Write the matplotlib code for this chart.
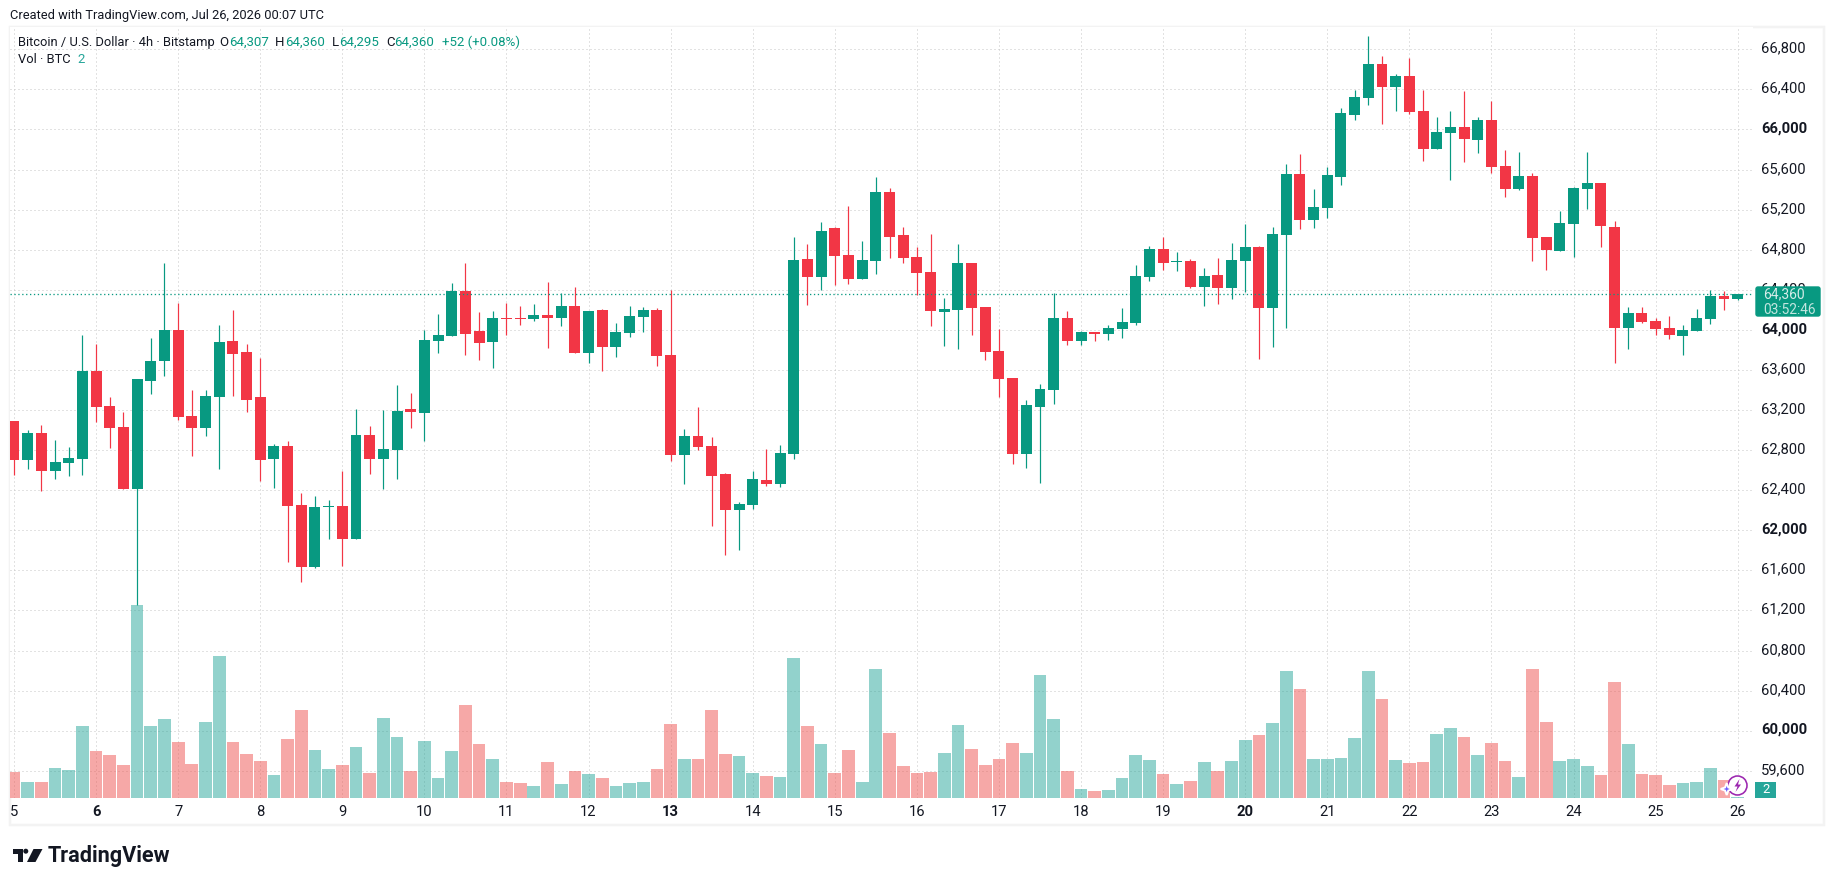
import matplotlib
matplotlib.use('Agg')
import matplotlib.pyplot as plt
from matplotlib.patches import Rectangle, Polygon, Circle, FancyBboxPatch
from matplotlib.transforms import Affine2D, ScaledTranslation

# BTC/USD 4h candles, Bitstamp
opens = [63093, 62703, 62973, 62593, 62673, 62713, 63593, 63243, 63033, 62413,
         63493, 63693, 64003, 63143, 63023, 63333, 63893, 63783, 63333, 62713,
         62843, 62253, 61633, 62233, 62243, 61913, 62953, 62713, 62803, 63213,
         63173, 63893, 63943, 64383, 63993, 63883, 64123, 64123, 64113, 64153,
         64123, 64243, 63773, 64203, 63833, 63973, 64133, 64203, 63753, 62753,
         62943, 62843, 62563, 62203, 62253, 62503, 62463, 62763, 64703, 64523,
         65013, 64743, 64503, 64683, 65373, 64943, 64723, 64573, 64183, 64203,
         64663, 64233, 63793, 63523, 62763, 63233, 63403, 64123, 63893, 63983,
         63963, 64013, 64073, 64523, 64803, 64673, 64683, 64423, 64543, 64413,
         64683, 64823, 64223, 64943, 65553, 65093, 65213, 65523, 66143, 66313,
         66653, 66423, 66533, 66183, 65803, 65963, 66023, 65893, 66093, 65633,
         65403, 65533, 64923, 64783, 65053, 65403, 65463, 65023, 64023, 64173,
         64093, 64023, 63943, 63993, 64113, 64333, 64307]
highs = [63093, 63003, 63053, 62903, 62833, 63953, 63863, 63333, 63183, 63513,
         63923, 64663, 64273, 63403, 63403, 64053, 64203, 63863, 63723, 62863,
         62893, 62373, 62343, 62303, 62593, 63213, 63043, 63203, 63453, 63373,
         64003, 64163, 64463, 64663, 64183, 64193, 64273, 64243, 64263, 64473,
         64363, 64423, 64193, 64213, 64073, 64243, 64233, 64223, 64393, 63013,
         63233, 62933, 62573, 62283, 62593, 62813, 62853, 64923, 64853, 65073,
         65023, 65233, 64883, 65523, 65413, 65023, 64823, 64953, 64313, 64853,
         64663, 64233, 64013, 63523, 63303, 63463, 64363, 64193, 63993, 63983,
         64053, 64223, 64643, 64833, 64923, 64773, 64703, 64613, 64713, 64863,
         65053, 64833, 65023, 65653, 65753, 65403, 65623, 66213, 66393, 66933,
         66733, 66553, 66713, 66393, 66123, 66183, 66383, 66123, 66283, 65793,
         65773, 65563, 64923, 65183, 65423, 65773, 65463, 65083, 64233, 64233,
         64123, 64143, 64053, 64213, 64393, 64383, 64360]
lows = [62553, 62613, 62393, 62513, 62543, 62553, 63083, 62823, 62413, 61253,
        63363, 63543, 63103, 62743, 62943, 62613, 63343, 63183, 62493, 62423,
        61683, 61483, 61623, 61913, 61643, 61913, 62563, 62413, 62513, 63023,
        62893, 63773, 63943, 63753, 63703, 63623, 63953, 64053, 64093, 63823,
        64043, 63773, 63673, 63593, 63733, 63933, 63983, 63643, 62693, 62463,
        62803, 62043, 61753, 61803, 62213, 62443, 62433, 62713, 64253, 64393,
        64443, 64453, 64503, 64553, 64713, 64663, 64343, 64043, 63843, 63813,
        63953, 63703, 63333, 62663, 62623, 62473, 63263, 63853, 63853, 63893,
        63903, 63923, 64053, 64483, 64593, 64583, 64413, 64243, 64263, 64303,
        64373, 63713, 63833, 64023, 65003, 65013, 65113, 65443, 66093, 66243,
        66053, 66183, 66153, 65683, 65803, 65493, 65673, 65763, 65563, 65323,
        65393, 64683, 64593, 64783, 64723, 65203, 64823, 63673, 63813, 64073,
        63953, 63913, 63753, 63993, 64063, 64203, 64295]
closes = [62703, 62973, 62593, 62683, 62723, 63593, 63233, 63023, 62413, 63513,
          63693, 64003, 63133, 63023, 63343, 63883, 63763, 63303, 62703, 62843,
          62243, 61633, 62233, 62243, 61913, 62953, 62713, 62813, 63193, 63183,
          63903, 63953, 64383, 63963, 63873, 64123, 64113, 64113, 64153, 64123,
          64243, 63773, 64193, 63833, 63983, 64143, 64203, 63743, 62753, 62943,
          62833, 62543, 62203, 62263, 62513, 62463, 62773, 64693, 64523, 64983,
          64733, 64503, 64693, 65373, 64923, 64713, 64563, 64193, 64213, 64663,
          64223, 63783, 63513, 62763, 63253, 63413, 64123, 63893, 63983, 63963,
          64023, 64083, 64533, 64803, 64663, 64683, 64423, 64533, 64413, 64693,
          64823, 64223, 64953, 65553, 65093, 65223, 65543, 66163, 66323, 66653,
          66423, 66533, 66173, 65803, 65973, 66023, 65903, 66093, 65623, 65403,
          65533, 64913, 64793, 65063, 65413, 65463, 65033, 64023, 64173, 64083,
          64013, 63953, 64003, 64123, 64333, 64303, 64360]
volumes = [39, 24, 24, 45, 42, 108, 70.5, 64.5, 49.5, 289.5,
           108, 118.5, 84, 51, 114, 213, 84, 66, 55.5, 34.5,
           88.5, 132, 72, 43.5, 49.5, 76.5, 37.5, 120, 91.5, 40.5,
           85.5, 30, 70.5, 139.5, 81, 58.5, 24, 22.5, 18, 54,
           21, 40.5, 36, 30, 18, 22.5, 24, 43.5, 111, 58.5,
           58.5, 132, 66, 63, 37.5, 33, 31.5, 210, 108, 81,
           37.5, 72, 24, 193.5, 97.5, 48, 37.5, 39, 67.5, 109.5,
           73.5, 49.5, 58.5, 82.5, 67.5, 184.5, 118.5, 40.5, 13.5, 10.5,
           12, 30, 64.5, 57, 36, 21, 25.5, 54, 40.5, 55.5,
           87, 94.5, 112.5, 190.5, 163.5, 58.5, 58.5, 60, 90, 190.5,
           148.5, 57, 52.5, 54, 96, 105, 91.5, 64.5, 82.5, 55.5,
           31.5, 193.5, 114, 55.5, 58.5, 48, 34.5, 174, 81, 36,
           34.5, 19.5, 22.5, 24, 45, 27, 2]

price_ticks = list(range(59600, 67200, 400))
bold_prices = [60000, 62000, 64000, 66000]
day_labels = ['5', '6', '7', '8', '9', '10', '11', '12', '13', '14', '15', '16',
              '17', '18', '19', '20', '21', '22', '23', '24', '25', '26']
bold_days = ['6', '13', '20']
last_price = 64360

UP = '#089981'
DOWN = '#F23645'
VOL_UP = '#26A69A'
VOL_DOWN = '#EF5350'
INK = '#131722'
GRID = '#c6c6c6'

W, H = 1835, 886
plt.rcParams['font.family'] = ['Roboto', 'DejaVu Sans']
fig = plt.figure(figsize=(W / 100, H / 100), dpi=100, facecolor='white')

# helper transform: plain pixel coordinates with the origin top left
px = Affine2D().scale(1 / W, -1 / H).translate(0, 1) + fig.transFigure
PT = 72 / 100

# chart pane, from x 10 to 1753 and y 27 to 798
left, right, top, bottom = 10, 1753, 27, 798
ax = fig.add_axes([left / W, 1 - bottom / H, (right - left) / W, (bottom - top) / H])
ax.set_zorder(1)

idx = list(range(len(opens)))
step = 13.68
ax.set_xlim((left - 14) / step, (right - 14) / step)
slope = 0.1002
ax.set_ylim(66800 - (bottom - 49.3) / slope, 66800 + (49.3 - top) / slope)

# volume histogram on its own scale, under the candles
vol_ax = ax.twinx()
vol_ax.set_zorder(2)
vol_ax.patch.set_visible(False)
vol_ax.set_ylim(0, (bottom - top) * 1.5)
vol_ax.axis('off')
is_up = [c >= o for o, c in zip(opens, closes)]
vol_ax.bar(idx, volumes, width=0.93, linewidth=0, alpha=0.5,
           color=[VOL_UP if u else VOL_DOWN for u in is_up])

# candles
price_ax = ax.twinx()
price_ax.set_zorder(3)
price_ax.patch.set_visible(False)
price_ax.set_ylim(ax.get_ylim())
price_ax.axis('off')
colors = [UP if u else DOWN for u in is_up]
price_ax.vlines(idx, lows, highs, colors=colors, linewidth=1.2 * PT)
price_ax.bar(idx, [abs(c - o) for o, c in zip(opens, closes)],
             bottom=[min(o, c) for o, c in zip(opens, closes)],
             width=0.8, color=colors, linewidth=0)
price_ax.axhline(last_price, color=UP, linewidth=1.3 * PT, linestyle=(0, (1, 2)))

# price scale on the right, day scale below
ax.set_yticks(price_ticks)
ax.set_yticklabels([f'{p:,}' for p in price_ticks])
ax.set_xticks(idx[::6])
ax.set_xticklabels(day_labels)
ax.yaxis.tick_right()
ax.tick_params(axis='both', length=0, labelsize=14.8 * PT, labelcolor=INK)
ax.tick_params(axis='y', pad=8 * PT)
ax.tick_params(axis='x', pad=7 * PT)
# price labels sit a little above their grid lines
nudge = ScaledTranslation(0, 2.2 / 100, fig.dpi_scale_trans)
for lab, p in zip(ax.get_yticklabels(), price_ticks):
    lab.set_transform(lab.get_transform() + nudge)
    if p in bold_prices:
        lab.set_fontweight('bold')
for lab in ax.get_xticklabels():
    if lab.get_text() in bold_days:
        lab.set_fontweight('bold')
ax.grid(True, color=GRID, linewidth=1 * PT, linestyle=(0, (1, 3)))
for s in ax.spines.values():
    s.set_visible(False)

# pane border
fig.add_artist(Rectangle((10, 27), 1814, 798, transform=px, fill=False,
                         edgecolor='#f3f3f3', linewidth=2.5 * PT, zorder=0))

# last price and last volume tags on the scale
fig.add_artist(FancyBboxPatch((1756, 287), 64, 29, boxstyle='round,pad=0,rounding_size=2',
                              transform=px, facecolor=UP, edgecolor=UP, linewidth=1, zorder=10))
fig.text(1763, 294, f'{last_price:,}', transform=px, color='#d5ece8', fontsize=13.9 * PT,
         va='center', zorder=11)
fig.text(1763, 309.5, '03:52:46', transform=px, color='#c2e5df', fontsize=13.8 * PT,
         va='center', zorder=11)
fig.add_artist(Rectangle((1755, 782), 21, 16, transform=px, facecolor=VOL_UP,
                         edgecolor='none', zorder=10))
fig.text(1766, 790, '2', transform=px, color='white', fontsize=13 * PT,
         ha='center', va='center', zorder=11)

# header texts
fig.text(10, 15.5, 'Created with TradingView.com, Jul 26, 2026 00:07 UTC', transform=px,
         color=INK, fontsize=12.85 * PT, va='center', zorder=11)
legend_row = [(18, 'Bitcoin / U.S. Dollar · 4h · Bitstamp', INK, 12.9), (219, 'O', INK, 13.2),
              (229, '64,307', UP, 13.2), (275, 'H', INK, 13.2), (285, '64,360', UP, 13.2),
              (332, 'L', INK, 13.2), (339, '64,295', UP, 13.2), (386, 'C', INK, 13.2),
              (394, '64,360', UP, 13.2), (442, '+52 (+0.08%)', UP, 13.2)]
for x, txt, col, size in legend_row:
    fig.text(x, 42.5, txt, transform=px, color=col, fontsize=size * PT, va='center', zorder=11)
fig.text(18, 59.5, 'Vol · BTC', transform=px, color=INK, fontsize=12.9 * PT, va='center', zorder=11)
fig.text(77, 59.5, '2', transform=px, color=VOL_UP, fontsize=13.2 * PT, va='center', zorder=11)

# TradingView logo
logo = '#131722'
fig.add_artist(Polygon([(13, 849), (22.5, 849), (22.5, 862), (17.7, 862), (17.7, 853.7), (13, 853.7)],
                       transform=px, facecolor=logo, edgecolor='none'))
fig.add_artist(Circle((25.8, 851.2), 2.5, transform=px, facecolor=logo, edgecolor='none'))
fig.add_artist(Polygon([(33.5, 849), (42.5, 849), (35.5, 862), (27, 862)],
                       transform=px, facecolor=logo, edgecolor='none'))
fig.text(48, 856.5, 'TradingView', transform=px, color=logo, fontsize=21.6 * PT,
         fontweight='bold', va='center', zorder=11)

# sparkle badge at the end of the volume bars
fig.add_artist(Circle((1737.5, 785.5), 9.5, transform=px, facecolor='white',
                      edgecolor='#9c27b0', linewidth=1.6 * PT, zorder=12))
fig.add_artist(Polygon([(1739.5, 779), (1734.5, 786.5), (1737.5, 786.5), (1735.5, 792),
                        (1741, 784.5), (1738, 784.5)],
                       transform=px, facecolor='#9c27b0', edgecolor='none', zorder=13))
cx, cy = 1726.7, 789
fig.add_artist(Polygon([(cx, cy - 6), (cx + 1.6, cy - 1.6), (cx + 6, cy), (cx + 1.6, cy + 1.6),
                        (cx, cy + 6), (cx - 1.6, cy + 1.6), (cx - 6, cy), (cx - 1.6, cy - 1.6)],
                       transform=px, facecolor='#6a5cff', edgecolor='white',
                       linewidth=2 * PT, zorder=13))

fig.savefig('out.png', dpi=100, facecolor='white')
